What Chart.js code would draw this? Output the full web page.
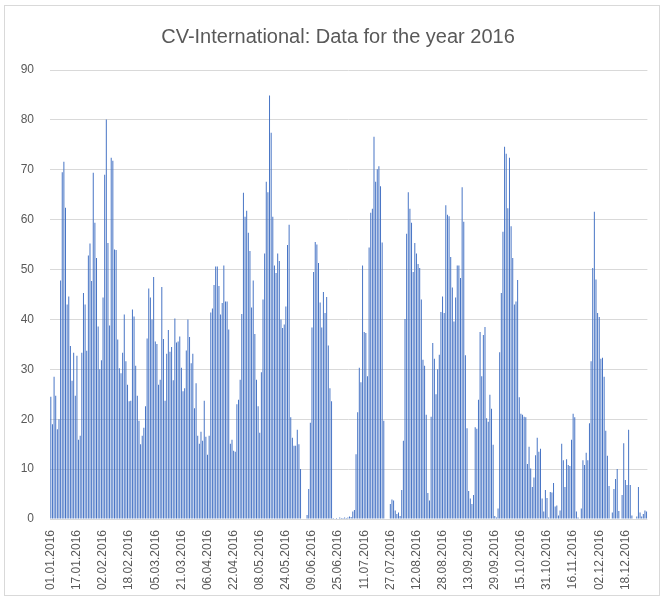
<!DOCTYPE html>
<html>
<head>
<meta charset="utf-8">
<script src="https://cdn.jsdelivr.net/npm/chart.js@4"></script>
<style>
  body { margin: 0; background: #fff; }
  #wrap { position: relative; width: 664px; height: 599px; }
  #frame { position: absolute; left: 4px; top: 5px; width: 656px; height: 591px; border: 1px solid #d9d9d9; box-sizing: border-box; }
  canvas { position: absolute; left: 0; top: 0; }
</style>
</head>
<body>
<div id="wrap">
  <div id="frame"></div>
  <canvas id="cvChart" width="664" height="599"></canvas>
</div>
<script>
// daily values, one array per month (2016 is a leap year)
const jan = [24.5, 19, 28.5, 24.7, 18, 20, 47.8, 69.5, 71.6, 62.4, 43, 44.6, 34.7, 27.7, 33.3, 24.7, 32.7, 15.9, 16.7, 33.3, 45.3, 43, 33.7, 52.8, 55.2, 47.7, 69.4, 59.4, 52.3, 38.6, 30];
const feb = [31.8, 44.4, 69, 80.1, 55.3, 38.8, 72.4, 71.8, 54, 53.9, 36, 30.2, 29.2, 33.3, 41, 31.6, 26.9, 23.6, 23.7, 42, 40.6, 30.7, 24.7, 19.7, 15, 16.7, 18.3, 22.6, 36.2];
const mar = [46.2, 44.4, 40, 48.5, 35.6, 35.1, 26.9, 27.9, 46.5, 36.1, 23.7, 33.1, 37.9, 33.5, 34.5, 27.8, 40.2, 35.4, 35.6, 36.6, 30.3, 25.6, 26.2, 33.8, 40, 36.5, 31.2, 33.1, 22.2, 27.2, 16.7];
const apr = [15.1, 17.5, 15.7, 23.7, 16.5, 12.9, 16.7, 41.4, 42.2, 46.9, 50.6, 50.6, 46.7, 41, 43.3, 50.8, 43.6, 43.6, 38, 15.1, 15.9, 13.7, 13.5, 23, 23.9, 27.9, 41.1, 65.4, 60.6, 61.8];
const may = [57.4, 53.7, 42.4, 47.8, 37.1, 27.9, 22.6, 17.3, 29.4, 44, 53.2, 67.6, 65.5, 84.9, 77.4, 60.6, 50.8, 49.3, 53.2, 51.7, 40, 38.3, 39, 42.6, 54.9, 59, 20.4, 16.3, 14.7, 14.7, 17.9];
const jun = [15, 10, 0, 0, 0.1, 0.8, 6, 19.3, 38.4, 49.5, 55.5, 55, 51.3, 43.4, 38.4, 45.5, 41.3, 44.5, 34.8, 26.2, 23.6, 0.2, 0.1, 0.2, 0.1, 0.3, 0.2, 0.2, 0.3, 0.2];
const jul = [0.3, 0.5, 0.4, 1.5, 1.8, 13, 21.4, 30.3, 27.4, 50.8, 37.5, 37.3, 28.6, 54.4, 61.4, 62.2, 76.6, 67.6, 70.1, 70.7, 66.7, 55.4, 19.7, 0, 0, 0, 3, 3.9, 3.7, 1.7, 1];
const aug = [1.3, 0.6, 5.8, 15.7, 40.1, 57.2, 65.5, 62.2, 59.4, 49.5, 55.3, 53.2, 51.1, 50.3, 44, 31.9, 30.7, 20.9, 5.2, 3.7, 20.5, 35.3, 32.1, 25, 30, 32.9, 41.5, 44.6, 41.3, 62.9, 61];
const sep = [60.7, 52.5, 46.4, 39.6, 44.4, 50.8, 50.8, 48.3, 66.5, 59.6, 32.8, 18.2, 5.6, 4.1, 3, 4.8, 18.4, 18.1, 23.9, 37.5, 28.6, 36.9, 38.5, 20.2, 19.5, 24.9, 22.1, 14.9, 0.6, 0.3];
const oct = [2.1, 33.4, 45.3, 57.6, 74.6, 73.2, 62.3, 72.4, 58.7, 52.3, 43, 43.6, 47.9, 24.4, 21.1, 20.9, 20.5, 20.4, 11, 14.5, 10.1, 6.4, 8.3, 12.8, 16.3, 13.5, 14.1, 4.1, 1.5, 5.8, 4.2];
const nov = [0.3, 5.4, 5.3, 7.2, 2.5, 2.7, 0.7, 1.7, 15.1, 11.8, 6.4, 12, 10.8, 10.6, 15.9, 21.1, 20.4, 1.5, 0.3, 0, 2.1, 11.8, 10.8, 13.3, 11.8, 19.2, 31.6, 50.3, 61.6, 48];
const dec = [41.3, 40.5, 32.1, 32.3, 28.5, 17.7, 12.7, 6.6, 0, 1.3, 6, 8, 10, 1.6, 0, 4.8, 15.2, 7.8, 6.8, 17.9, 6.8, 0.7, 0, 0, 0.5, 6.4, 1.3, 0.5, 1, 1.7, 1.5];

const months = [jan, feb, mar, apr, may, jun, jul, aug, sep, oct, nov, dec];
const labelEvery = 16; // excel shows every 16th date

// build the date categories dd.mm.2016
const labels = [];
const values = [];
months.forEach((m, mi) => {
  m.forEach((v, di) => {
    const dd = String(di + 1).padStart(2, "0");
    const mm = String(mi + 1).padStart(2, "0");
    labels.push(dd + "." + mm + ".2016");
    values.push(v);
  });
});

const font = "'Liberation Sans', Arial, sans-serif";

// nudge the title a bit to the right, like in the excel original
const titleShift = {
  id: "titleShift",
  afterLayout: (chart) => {
    if (chart.titleBlock) chart.titleBlock.left = 26;
  },
};

const config = {
  type: "bar",
  data: {
    labels: labels,
    datasets: [
      {
        label: "CV-International",
        data: values,
        backgroundColor: "#4472C4",
        barPercentage: 0.6,
        categoryPercentage: 1.0,
      },
    ],
  },
  options: {
    responsive: false,
    animation: false,
    layout: {
      padding: { left: 0, right: 14, top: 0, bottom: 0 },
    },
    plugins: {
      legend: { display: false },
      tooltip: { enabled: false },
      title: {
        display: true,
        text: "CV-International: Data for the year 2016",
        color: "#595959",
        font: { family: font, size: 20, weight: "normal" },
        padding: { top: 25, bottom: 21 },
      },
    },
    scales: {
      x: {
        grid: { display: false },
        border: { display: false },
        ticks: {
          autoSkip: false,
          minRotation: 90,
          maxRotation: 90,
          padding: 3,
          color: "#595959",
          font: { family: font, size: 12 },
          callback: (v, i) => (i % labelEvery === 0 ? labels[i] : ""),
        },
        afterFit: (scale) => {
          scale.height = 80;
        },
      },
      y: {
        min: 0,
        max: 90,
        ticks: {
          stepSize: 10,
          padding: 16,
          color: "#595959",
          font: { family: font, size: 12 },
        },
        grid: { color: "#d9d9d9", drawTicks: false },
        border: { display: false },
        afterFit: (scale) => {
          scale.width = 50;
        },
      },
    },
  },
  plugins: [titleShift],
};

new Chart(document.getElementById("cvChart"), config);
</script>
</body>
</html>
